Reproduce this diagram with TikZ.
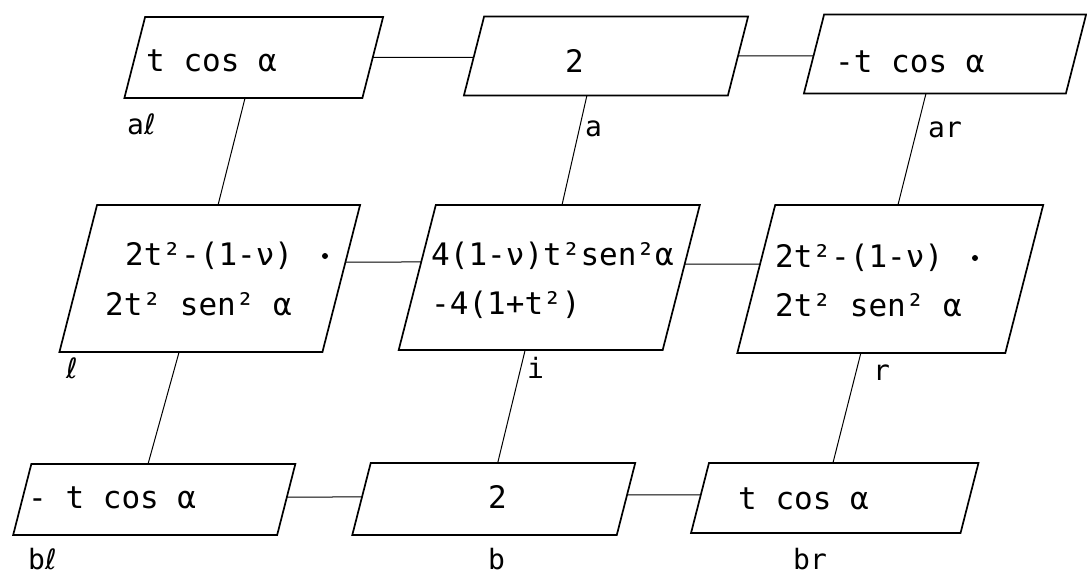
\documentclass[tikz,border=0pt]{standalone}
\usepackage{fontspec}
\setmainfont{DejaVu Sans Mono}
\newfontfamily\ellfont{DejaVu Sans}
\usetikzlibrary{calc}
\tikzset{
  boxbase/.style={draw=none, inner sep=0pt, outer sep=0pt, rectangle},
  boxline/.style={line width=1.7pt, line join=miter},
  conn/.style={line width=1pt},
  maintext/.style={inner sep=0pt, font=\fontsize{31}{37}\selectfont, anchor=base west},
  lbltext/.style={inner sep=0pt, font=\fontsize{28}{32}\selectfont, anchor=base west},
  dotmark/.style={circle, fill=black, inner sep=0pt, minimum size=6pt},
}
\newcommand\ellch{{\ellfont ℓ}}
\newcommand\mkpara[5]{%
  \node[boxbase, minimum width=#4pt, minimum height=#5pt] (#1) at (#2,#3) {};
  \pgfmathsetmacro\slantv{0.128*#5}
  \coordinate (#1-tl) at ($(#1.north west)+(\slantv,0)$);
  \coordinate (#1-tr) at ($(#1.north east)+(\slantv,0)$);
  \coordinate (#1-br) at ($(#1.south east)-(\slantv,0)$);
  \coordinate (#1-bl) at ($(#1.south west)-(\slantv,0)$);
  \draw[boxline] (#1-tl) -- (#1-tr) -- (#1-br) -- (#1-bl) -- cycle;
}
\begin{document}
\begin{tikzpicture}[x=1pt,y=-1pt]
\fill[white] (0,0) rectangle (1087,575);
\useasboundingbox (0,0) rectangle (1087,575);

% boxes
\mkpara{al}{253.75}{57.5}{238}{81}
\mkpara{a}{606}{56}{264}{79}
\mkpara{ar}{945}{54}{262}{79}
\mkpara{l}{209.75}{278.5}{263}{147}
\mkpara{i}{549.25}{277.5}{264}{145}
\mkpara{r}{890.25}{279}{268}{148}
\mkpara{bl}{154.25}{499.5}{264}{71}
\mkpara{b}{493.75}{499}{264.5}{72}
\mkpara{br}{834.75}{498}{269.5}{70}

% texts
\node[maintext] (al-t) at (146,72) {t cos α};
\node[maintext] (a-t) at (565,73) {2};
\node[maintext] (ar-t) at (835,73) {-t cos α};
\node[maintext] (l-t1) at (125,265) {2t²-(1-ν)};
\node[maintext] (l-t2) at (105,315) {2t² sen² α};
\node[dotmark] (l-dot) at (325,256) {};
\node[maintext] (i-t1) at (431,265) {4(1-ν)t²sen²α};
\node[maintext] (i-t2) at (431,314) {-4(1+t²)};
\node[maintext] (r-t1) at (775,267) {2t²-(1-ν)};
\node[maintext] (r-t2) at (775,316) {2t² sen² α};
\node[dotmark] (r-dot) at (975,258) {};
\node[maintext] (bl-t) at (28,508) {- t cos α};
\node[maintext] (b-t) at (488,508) {2};
\node[maintext] (br-t) at (738,509) {t cos α};

% labels
\node[lbltext] (al-l) at (127,135) {a\ellch};
\node[lbltext] (a-l) at (585,137) {a};
\node[lbltext] (ar-l) at (928,138) {ar};
\node[lbltext] (l-l) at (66,378) {\ellch};
\node[lbltext] (i-l) at (527,378) {i};
\node[lbltext] (r-l) at (873,380) {r};
\node[lbltext] (bl-l) at (28,569) {b\ellch};
\node[lbltext] (b-l) at (488,569) {b};
\node[lbltext] (br-l) at (793,569) {br};

% vertical connectors
\draw[conn] ($(al-bl)!0.507!(al-br)$) -- ($(l-tl)!0.46!(l-tr)$);
\draw[conn] ($(a-bl)!0.466!(a-br)$) -- ($(i-tl)!0.478!(i-tr)$);
\draw[conn] ($(ar-bl)!0.466!(ar-br)$) -- ($(r-tl)!0.458!(r-tr)$);
\draw[conn] ($(l-bl)!0.455!(l-br)$) -- ($(bl-tl)!0.442!(bl-tr)$);
\draw[conn] ($(i-bl)!0.479!(i-br)$) -- ($(b-tl)!0.48!(b-tr)$);
\draw[conn] ($(r-bl)!0.461!(r-br)$) -- ($(br-tl)!0.46!(br-tr)$);

% horizontal connectors
\draw[conn] ($(al-tr)!0.5!(al-br)$) -- ($(a-tl)!0.519!(a-bl)$);
\draw[conn] ($(a-tr)!0.5!(a-br)$) -- ($(ar-tl)!0.525!(ar-bl)$);
\draw[conn] ($(l-tr)!0.388!(l-br)$) -- ($(i-tl)!0.393!(i-bl)$);
\draw[conn] ($(i-tr)!0.407!(i-br)$) -- ($(r-tl)!0.399!(r-bl)$);
\draw[conn] ($(bl-tr)!0.465!(bl-br)$) -- ($(b-tl)!0.472!(b-bl)$);
\draw[conn] ($(b-tr)!0.444!(b-br)$) -- ($(br-tl)!0.457!(br-bl)$);
\end{tikzpicture}
\end{document}
